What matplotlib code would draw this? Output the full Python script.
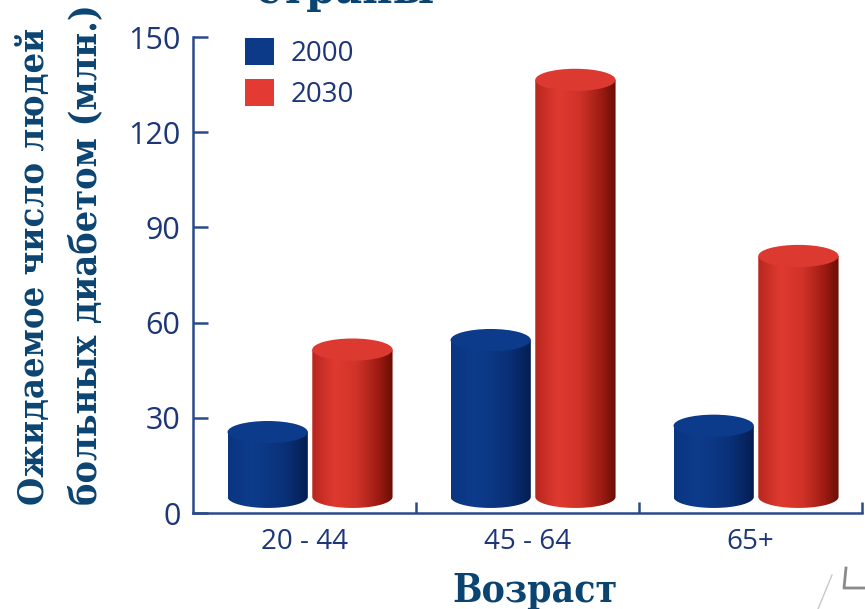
import numpy as np
import matplotlib
matplotlib.use("Agg")
import matplotlib.pyplot as plt
from matplotlib.patches import Ellipse, PathPatch, Patch
from matplotlib.path import Path
from matplotlib.colors import LinearSegmentedColormap
from matplotlib.lines import Line2D

# данные
age_groups = ["20 - 44", "45 - 64", "65+"]
series_names = ["2000", "2030"]
values_2000 = [25.5, 54.5, 27.5]
values_2030 = [51.5, 136.5, 81.0]

navy = "#1c3678"
title_col = "#0b4471"

fig = plt.figure(figsize=(8.65, 6.09), dpi=100)
ax = fig.add_axes([0.2231, 0.1576, 0.7734, 0.7816])

cmap_blue = LinearSegmentedColormap.from_list(
    "cb", [(0, "#0a3580"), (0.3, "#0d3c8c"), (0.7, "#0a3178"), (1, "#041d52")])
cmap_red = LinearSegmentedColormap.from_list(
    "cr", [(0, "#b8271f"), (0.28, "#e03a30"), (0.55, "#d03328"),
           (0.82, "#9e1c13"), (1, "#6a0e05")])

bar_w = 0.36
base = 5.1
ell_h = 7.0
offsets = [-0.165, 0.215]


def cylinder(x, top, cmap, top_color):
    x0, x1 = x - bar_w / 2, x + bar_w / 2
    t = np.linspace(np.pi, 2 * np.pi, 60)
    arc = np.column_stack([x + bar_w / 2 * np.cos(t), base + ell_h / 2 * np.sin(t)])
    verts = [(x0, top)] + [tuple(p) for p in arc] + [(x1, top), (x0, top)]
    codes = [Path.MOVETO] + [Path.LINETO] * (len(verts) - 2) + [Path.CLOSEPOLY]
    body = PathPatch(Path(verts, codes), facecolor="none", edgecolor="none")
    ax.add_patch(body)
    grad = cmap(np.linspace(0, 1, 200))[None, :, :3]
    im = ax.imshow(grad, extent=[x0, x1, base - ell_h / 2, top], aspect="auto",
                   origin="lower", zorder=2)
    im.set_clip_path(body)
    ax.add_patch(Ellipse((x, top), bar_w, ell_h, facecolor=top_color,
                         edgecolor="none", zorder=3))


for i in range(len(age_groups)):
    cylinder(i + offsets[0], values_2000[i], cmap_blue, "#0c3b8b")
    cylinder(i + offsets[1], values_2030[i], cmap_red, "#dc3a31")

ax.set_xlim(-0.5, 2.5)
ax.set_ylim(0, 150)
ax.set_yticks([0, 30, 60, 90, 120, 150])
ax.set_xticks(range(len(age_groups)))
ax.set_xticklabels(age_groups)
ax.set_xticks([0.5, 1.5, 2.5], minor=True)

for s in ["top", "right"]:
    ax.spines[s].set_visible(False)
for s in ["left", "bottom"]:
    ax.spines[s].set_color("#2a4a8c")
    ax.spines[s].set_linewidth(1.8)

ax.tick_params(axis="y", direction="in", length=11, width=1.8, color="#2a4a8c",
               labelsize=22, labelcolor=navy, pad=9)
ax.tick_params(axis="x", which="major", length=0, labelsize=20,
               labelcolor=navy, pad=11)
ax.tick_params(axis="x", which="minor", direction="in", length=8, width=1.8,
               color="#2a4a8c")
for lab in ax.get_xticklabels() + ax.get_yticklabels():
    lab.set_family("Open Sans")

handles = [Patch(facecolor="#0c3a88", label=series_names[0]),
           Patch(facecolor="#e33b33", label=series_names[1])]
ax.legend(handles=handles, loc="upper left", bbox_to_anchor=(0.04, 1.05),
          frameon=False, handlelength=1.05, handleheight=1.1, handletextpad=0.6,
          labelspacing=0.4, prop={"family": "Open Sans", "size": 20},
          labelcolor=navy)

# подписи осей
lab_font = dict(family="DejaVu Serif", weight="bold", stretch="condensed",
                color=title_col, rotation=90, ha="center", va="bottom")
fig.text(34 / 865, 1 - 505 / 609, "Ожидаемое число людей", fontsize=26, **lab_font)
fig.text(86 / 865, 1 - 505 / 609, "больных диабетом (млн.)", fontsize=27, **lab_font)
fig.text(535 / 865, 1 - 602 / 609, "Возраст", family="DejaVu Serif",
         weight="bold", stretch="condensed", color=title_col, fontsize=28,
         ha="center", va="baseline")

# обрезанный заголовок
fig.text(345 / 865, 1 - 3 / 609, "страны", family="DejaVu Serif", weight="bold",
         color=title_col, fontsize=30, ha="center", va="baseline")

# фрагмент логотипа
fig.add_artist(Line2D([818 / 865, 832 / 865], [1 - 609 / 609, 1 - 575 / 609],
                      transform=fig.transFigure, color="#c8c8c8", lw=1))
fig.add_artist(Line2D([846 / 865, 844 / 865, 865 / 865],
                      [1 - 568 / 609, 1 - 588 / 609, 1 - 588 / 609],
                      transform=fig.transFigure, color="#8a8a8a", lw=2))

fig.savefig("out.png", dpi=100)
